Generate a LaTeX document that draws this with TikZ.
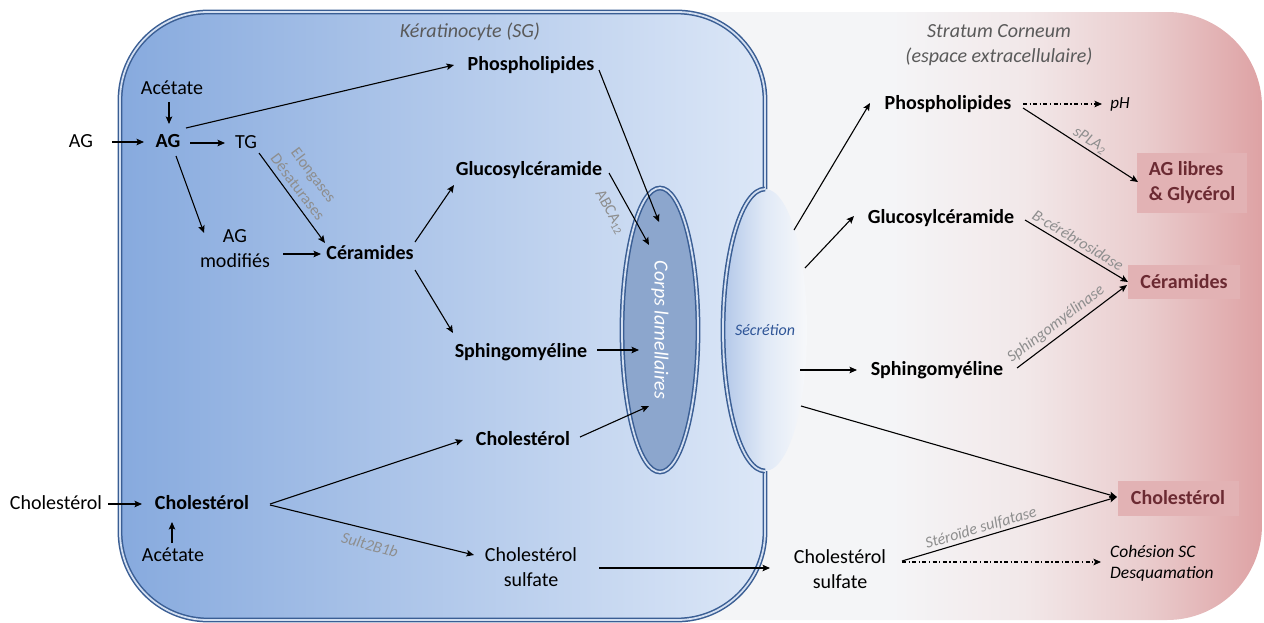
\documentclass[tikz,border=0pt]{standalone}
\usepackage{fontspec}
\setmainfont{Carlito}
\usetikzlibrary{arrows.meta,shapes.geometric,calc}
\definecolor{kerL}{HTML}{87AADE}
\definecolor{kerR}{HTML}{DCE7F7}
\definecolor{membcol}{HTML}{3A5E94}
\definecolor{membgap}{HTML}{D3DFF1}
\definecolor{corpsfill}{HTML}{8CA6CD}
\definecolor{vesL}{HTML}{B3C8E9}
\definecolor{vesM}{HTML}{E0E9F6}
\definecolor{vesR}{HTML}{F7F8FA}
\definecolor{scL}{HTML}{F4F5F7}
\definecolor{scM}{HTML}{F2E8E9}
\definecolor{scN}{HTML}{EACDCE}
\definecolor{scR}{HTML}{DEA2A4}
\definecolor{boxfill}{HTML}{E2B2B4}
\definecolor{boxtext}{HTML}{6B2A32}
\definecolor{enzcol}{HTML}{8E8E8E}
\definecolor{ttlcol}{HTML}{5A5A5A}
\definecolor{secrcol}{HTML}{2F5597}
\pgfdeclarehorizontalshading{scshade}{100bp}{color(0bp)=(scL); color(47bp)=(scL); color(57bp)=(scM); color(66bp)=(scN); color(75bp)=(scR); color(100bp)=(scR)}
\begin{document}
\begin{tikzpicture}[x=1pt,y=-1pt,
  txt/.style={font=\fontsize{20}{25}\selectfont, inner sep=0pt, text height=14pt, text depth=4pt},
  btxt/.style={txt, font=\fontsize{20}{25}\selectfont\bfseries},
  mtxt/.style={font=\fontsize{20}{25}\selectfont, inner sep=0pt, align=center},
  enz/.style={font=\fontsize{16}{20}\selectfont\itshape, text=enzcol, inner sep=0pt},
  enzup/.style={font=\fontsize{16}{20}\selectfont, text=enzcol, inner sep=0pt},
  ttl/.style={font=\fontsize{20}{25}\selectfont\itshape, text=ttlcol, align=center, inner sep=0pt},
  pbox/.style={fill=boxfill, font=\fontsize{20}{25}\selectfont\bfseries, text=boxtext, inner sep=0pt},
  arr/.style={line width=1.1pt, -{Stealth[length=7.5pt,width=6.5pt,inset=1.5pt]}},
  dd/.style={arr, dash pattern=on 4pt off 2.5pt on 1.2pt off 2.5pt},
  membrane/.style={draw=membcol, line width=1.5pt, double=membgap, double distance=1.8pt},
  vesicle/.style={ellipse, inner sep=0pt, minimum width=84, minimum height=282,
     left color=vesL, right color=vesR, middle color=vesM,
     font=\fontsize{16}{19}\selectfont\itshape, text=secrcol},
  corpsstyle/.style={ellipse, membrane, fill=corpsfill, inner sep=0pt, minimum width=284,
     minimum height=76, rotate=-90, font=\fontsize{20}{25}\selectfont\itshape, text=white}
]
\useasboundingbox (0,0) rectangle (1264,622);
% panels
\shade[shading=scshade, rounded corners=95] (600,12) rectangle (1262,620);
\shade[left color=kerL, right color=kerR, rounded corners=88] (120,12) rectangle (765,620);
% vesicle (secretion)
\node[vesicle] (secr) at (765,330) {\makebox[0pt]{Sécrétion}};
% membrane
\draw[membrane, rounded corners=88] (765,189) -- (765,12) -- (120,12) -- (120,620) -- (765,620) -- (765,471);
\draw[membrane] (765,189) .. controls (741.8,189) and (723,251.9) .. (723,330) .. controls (723,408.1) and (741.8,471) .. (765,471);
% lamellar bodies
\node[corpsstyle] (corps) at (660,330) {Corps lamellaires};

% titles
\node[ttl] (kertitle) at (470,32) {Kératinocyte (SG)};
\node[ttl] (sctitle) at (999,45) {Stratum Corneum\\(espace extracellulaire)};

% left nodes
\node[txt] (agext) at (81,142) {AG};
\node[btxt] (ag) at (168,142) {AG};
\node[txt] (acet1) at (172,89) {Acétate};
\node[txt] (tg) at (246,143) {TG};
\node[mtxt] (agmod) at (235,249) {AG\\modifiés};
\node[btxt] (cer) at (370,254) {Céramides};
\node[btxt] (phos) at (531,65) {Phospholipides};
\node[btxt] (gluc) at (529,170) {Glucosylcéramide};
\node[btxt] (sph) at (521,352) {Sphingomyéline};
\node[btxt] (chol2) at (523,440) {Cholestérol};
\node[txt] (cholext) at (56,504) {Cholestérol};
\node[btxt] (chol) at (202,504) {Cholestérol};
\node[txt] (acet2) at (173,556) {Acétate};
\node[mtxt] (cs1) at (531,567) {Cholestérol\\sulfate};

% right nodes
\node[mtxt] (cs2) at (840,569) {Cholestérol\\sulfate};
\node[btxt] (phosR) at (948,104) {Phospholipides};
\node[btxt] (glucR) at (941,218) {Glucosylcéramide};
\node[btxt] (sphR) at (937,370) {Sphingomyéline};
\node[font=\fontsize{17}{20}\selectfont\itshape, inner sep=0pt] (ph) at (1120,104) {pH};
\node[pbox, minimum width=110, minimum height=60, align=left] (agl) at (1192,183) {AG libres\\\& Glycérol};
\node[pbox, minimum width=112, minimum height=34] (cerR) at (1184,282) {Céramides};
\node[pbox, minimum width=121, minimum height=35] (cholR) at (1178,498) {Cholestérol};
\node[font=\fontsize{17.5}{21}\selectfont\itshape, align=left, inner sep=0pt, anchor=west] (coh) at (1110,563) {Cohésion SC\\Desquamation};

% left arrows
\draw[arr] ($(agext)+(31,0)$) -- ($(ag)+(-24,0)$);
\draw[arr] ($(acet1)+(-3,13)$) -- ($(ag)+(1,-18)$);
\draw[arr] ($(ag)+(22,1)$) -- ($(tg)+(-21,0)$);
\draw[arr] ($(ag)+(18,-14)$) -- ($(phos)+(-77,0)$);
\draw[arr] ($(ag)+(8,14)$) -- ($(agmod)+(-31,-16)$);
\draw[arr] ($(tg)+(13,10)$) -- ($(cer)+(-45,-11)$);
\draw[arr] ($(agmod)+(48,5)$) -- ($(cer)+(-49,0)$);
\draw[arr] ($(cer)+(45,-12)$) -- ($(gluc)+(-75,15)$);
\draw[arr] ($(cer)+(45,16)$) -- ($(sph)+(-68,-19)$);
\draw[arr] ($(phos)+(68,5)$) -- ($(corps)+(-1,-108)$);
\draw[arr] ($(gluc)+(80,3)$) -- ($(corps)+(-11,-85)$);
\draw[arr] ($(sph)+(76,-2)$) -- ($(corps)+(-21,20)$);
\draw[arr] ($(chol2)+(57,-3)$) -- ($(corps)+(-11,76)$);
\draw[arr] ($(cholext)+(52,0)$) -- ($(chol)+(-60,0)$);
\draw[arr] ($(acet2)+(-1,-13)$) -- ($(chol)+(-30,18)$);
\draw[arr] ($(chol)+(68,0)$) -- ($(chol2)+(-60,0)$);
\draw[arr] ($(chol)+(68,1)$) -- ($(cs1)+(-57,-12)$);
\draw[arr] ($(cs1)+(68,1)$) -- ($(cs2)+(-70,-1)$);

% right arrows
\draw[arr] ($(secr)+(29,-100)$) -- ($(phosR)+(-78,-1)$);
\draw[arr] ($(secr)+(40,-62)$) -- ($(glucR)+(-87,-2)$);
\draw[arr] ($(secr)+(35,40)$) -- ($(sphR)+(-80,0)$);
\draw[arr] ($(secr)+(36,76)$) -- ($(cholR)+(-61,-1)$);
\draw[dd] ($(phosR)+(75,0)$) -- ($(ph)+(-18,0)$);
\draw[arr] ($(phosR)+(75,4)$) -- ($(agl)+(-54,-1)$);
\draw[arr] ($(glucR)+(84,2)$) -- ($(cerR)+(-56,0)$);
\draw[arr] ($(sphR)+(80,-2)$) -- ($(cerR)+(-57,3)$);
\draw[arr] ($(cs2)+(62,-8)$) -- ($(cholR)+(-61,-1)$);
\draw[dd] ($(cs2)+(62,-7)$) -- ($(coh.west)+(-9,-1)$);

% enzyme labels
\node[enzup, rotate=-53, align=center] (elong) at (306,181) {Elongases\\Désaturases};
\node[enzup, rotate=-61] (abca) at (610,212) {ABCA\textsubscript{12}};
\node[enz, rotate=-15] (sult) at (370,545) {Sult2B1b};
\node[enz, rotate=-32] (spla) at (1090,141) {sPLA\textsubscript{2}};
\node[enz, rotate=-31] (bcer) at (1078,240) {B-cérébrosidase};
\node[enz, rotate=37] (sphase) at (1056,324) {Sphingomyélinase};
\node[enz, rotate=16.5] (stase) at (981,528) {Stéroïde sulfatase};
\end{tikzpicture}
\end{document}
